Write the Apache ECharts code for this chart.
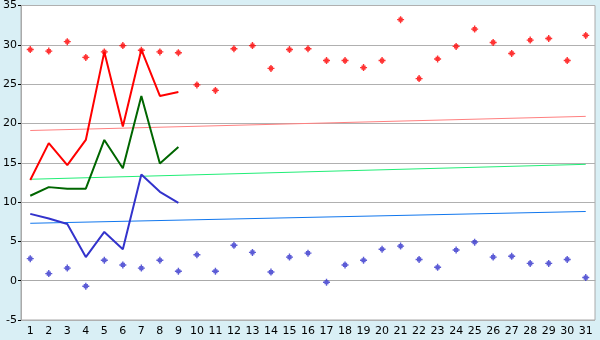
<!DOCTYPE html>
<html>
<head>
<meta charset="utf-8">
<script src="https://cdn.jsdelivr.net/npm/echarts@6/dist/echarts.min.js"></script>
<style>
html,body{margin:0;padding:0;background:#d9eff5;}
#c{width:600px;height:340px;}
</style>
</head>
<body>
<div id="c"></div>
<script>
const categories = ['1','2','3','4','5','6','7','8','9','10','11','12','13','14','15','16','17','18','19','20','21','22','23','24','25','26','27','28','29','30','31'];
const redPoints = [29.4,29.2,30.4,28.4,29.1,29.9,29.3,29.1,29.0,24.9,24.2,29.5,29.9,27.0,29.4,29.5,28.0,28.0,27.1,28.0,33.2,25.7,28.2,29.8,32.0,30.3,28.9,30.6,30.8,28.0,31.2];
const bluePoints = [2.8,0.9,1.6,-0.7,2.6,2.0,1.6,2.6,1.2,3.3,1.2,4.5,3.6,1.1,3.0,3.5,-0.2,2.0,2.6,4.0,4.4,2.7,1.7,3.9,4.9,3.0,3.1,2.2,2.2,2.7,0.4];
const redLine = [12.8,17.5,14.7,17.9,29.1,19.6,29.4,23.5,24.0];
const greenLine = [10.8,11.9,11.7,11.7,17.9,14.3,23.5,14.9,17.0];
const blueLine = [8.5,7.9,7.2,3.0,6.2,4.0,13.5,11.3,9.9];
const redTrend = [['1',19.1],['31',20.9]];
const greenTrend = [['1',12.9],['31',14.8]];
const blueTrend = [['1',7.3],['31',8.8]];
const yMin = -5, yMax = 35, yStep = 5;

const marker = 'path://M2,0h1v1h1v1h1v1h-1v1h-1v1h-1v-1h-1v-1h-1v-1h1v-1h1z';
const chart = echarts.init(document.getElementById('c'));
const lineS = (data, color, w) => ({type:'line', data, symbol:'none', connectNulls:true,
  lineStyle:{color, width:w}, itemStyle:{color}, z:3});
chart.setOption({
  animation:false,
  backgroundColor:'#d9eff5',
  textStyle:{fontFamily:'DejaVu Sans'},
  grid:{left:20,right:5,top:5,bottom:20,show:true,backgroundColor:'#ffffff',borderColor:'#aaaaaa',borderWidth:1},
  xAxis:{type:'category',data:categories,boundaryGap:true,
    axisLine:{lineStyle:{color:'#aaaaaa',width:1}},
    axisTick:{alignWithLabel:true,length:4,lineStyle:{color:'#000'}},
    axisLabel:{color:'#000',fontSize:11,margin:6,interval:0,fontFamily:'DejaVu Sans'},
    splitLine:{show:false}},
  yAxis:{type:'value',min:yMin,max:yMax,interval:yStep,
    axisLine:{show:true,lineStyle:{color:'#aaaaaa'}},
    axisTick:{show:true,length:3,lineStyle:{color:'#000'}},
    axisLabel:{color:'#000',fontSize:11,margin:4,fontFamily:'DejaVu Sans'},
    splitLine:{lineStyle:{color:'#b0b0b0',width:1}}},
  series:[
    lineS(redTrend,'#ff8080',1),
    lineS(greenTrend,'#22ee77',1),
    lineS(blueTrend,'#1177ee',1),
    lineS(redLine,'#ff0000',2),
    lineS(greenLine,'#006600',2),
    lineS(blueLine,'#3333cc',2),
    {type:'scatter',data:redPoints,symbol:marker,symbolSize:7,itemStyle:{color:'#ff0000'},z:4},
    {type:'scatter',data:bluePoints,symbol:marker,symbolSize:7,itemStyle:{color:'#3333cc'},z:4}
  ]
});
</script>
</body>
</html>
